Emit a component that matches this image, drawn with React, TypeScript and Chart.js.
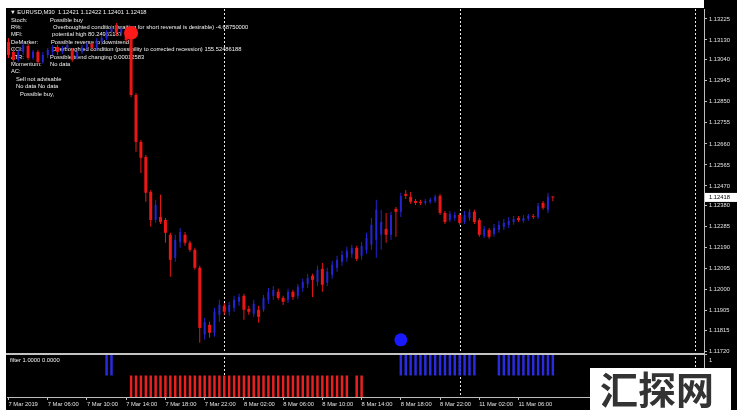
import React, { useEffect, useRef } from 'react';
import { Chart, registerables } from 'chart.js';
Chart.register(...registerables);

// ---------- data ----------
const FIRST_BAR = 4; // bar index of first visible M30 bar (7 Mar 02:00)

const opens = [
  1.13121, 1.13076, 1.13040, 1.13076, 1.13103, 1.13049, 1.13076, 1.13031, 1.13062, 1.13076,
  1.13098, 1.13076, 1.13094, 1.13085, 1.13049, 1.13076, 1.13094, 1.13112, 1.13094, 1.13121,
  1.13139, 1.13166, 1.13198, 1.13162, 1.13175, 1.13130, 1.12881, 1.12669, 1.12601, 1.12443,
  1.12316, 1.12330, 1.12316, 1.12249, 1.12145, 1.12217, 1.12249, 1.12213, 1.12181, 1.12100,
  1.11797, 1.11842, 1.11806, 1.11887, 1.11928, 1.11901, 1.11919, 1.11946, 1.11973, 1.11914,
  1.11892, 1.11910, 1.11910, 1.11955, 1.11973, 1.11991, 1.11964, 1.11955, 1.11991, 1.11973,
  1.12009, 1.12027, 1.12064, 1.12036, 1.12095, 1.12032, 1.12068, 1.12100, 1.12127, 1.12145,
  1.12163, 1.12190, 1.12154, 1.12181, 1.12204, 1.12226, 1.12249, 1.12276, 1.12249, 1.12366,
  1.12353, 1.12434, 1.12421, 1.12402, 1.12398, 1.12393, 1.12398, 1.12402, 1.12425, 1.12348,
  1.12316, 1.12325, 1.12339, 1.12307, 1.12325, 1.12353, 1.12316, 1.12244, 1.12271, 1.12253,
  1.12271, 1.12285, 1.12294, 1.12307, 1.12325, 1.12312, 1.12321, 1.12334, 1.12330, 1.12393,
  1.12362, 1.12421,
];
const highs = [
  1.13139, 1.13094, 1.13085, 1.13121, 1.13112, 1.13085, 1.13085, 1.13076, 1.13094, 1.13107,
  1.13107, 1.13103, 1.13116, 1.13094, 1.13085, 1.13107, 1.13121, 1.13121, 1.13139, 1.13153,
  1.13175, 1.13198, 1.13207, 1.13189, 1.13189, 1.13139, 1.12890, 1.12678, 1.12610, 1.12452,
  1.12407, 1.12430, 1.12325, 1.12258, 1.12249, 1.12280, 1.12262, 1.12222, 1.12190, 1.12109,
  1.11874, 1.11855, 1.11919, 1.11955, 1.11941, 1.11946, 1.11973, 1.11982, 1.11982, 1.11928,
  1.11955, 1.11928, 1.11977, 1.12009, 1.12018, 1.12005, 1.11973, 1.12005, 1.12000, 1.12027,
  1.12050, 1.12073, 1.12073, 1.12109, 1.12122, 1.12100, 1.12131, 1.12154, 1.12177, 1.12195,
  1.12204, 1.12199, 1.12217, 1.12258, 1.12325, 1.12407, 1.12362, 1.12348, 1.12353, 1.12375,
  1.12439, 1.12452, 1.12443, 1.12411, 1.12407, 1.12411, 1.12416, 1.12430, 1.12434, 1.12357,
  1.12357, 1.12353, 1.12348, 1.12357, 1.12366, 1.12362, 1.12325, 1.12289, 1.12280, 1.12298,
  1.12312, 1.12321, 1.12330, 1.12334, 1.12334, 1.12339, 1.12343, 1.12343, 1.12393, 1.12402,
  1.12439, 1.12422,
];
const lows = [
  1.13049, 1.13026, 1.13031, 1.13062, 1.13040, 1.13040, 1.13022, 1.13022, 1.13049, 1.13062,
  1.13062, 1.13067, 1.13080, 1.13031, 1.13040, 1.13067, 1.13085, 1.13085, 1.13085, 1.13107,
  1.13130, 1.13153, 1.13148, 1.13148, 1.13121, 1.12872, 1.12624, 1.12529, 1.12398, 1.12285,
  1.12303, 1.12298, 1.12213, 1.12059, 1.12127, 1.12190, 1.12199, 1.12172, 1.12091, 1.11761,
  1.11774, 1.11783, 1.11788, 1.11855, 1.11887, 1.11883, 1.11901, 1.11928, 1.11865, 1.11887,
  1.11878, 1.11851, 1.11901, 1.11937, 1.11955, 1.11955, 1.11932, 1.11941, 1.11955, 1.11959,
  1.11991, 1.12009, 1.11968, 1.12018, 1.11991, 1.12018, 1.12050, 1.12082, 1.12109, 1.12127,
  1.12145, 1.12131, 1.12136, 1.12163, 1.12181, 1.12145, 1.12181, 1.12213, 1.12226, 1.12240,
  1.12330, 1.12411, 1.12389, 1.12384, 1.12384, 1.12384, 1.12389, 1.12393, 1.12339, 1.12298,
  1.12307, 1.12312, 1.12294, 1.12298, 1.12312, 1.12298, 1.12240, 1.12235, 1.12231, 1.12240,
  1.12258, 1.12271, 1.12280, 1.12294, 1.12307, 1.12303, 1.12312, 1.12321, 1.12321, 1.12362,
  1.12348, 1.12401,
];
const closes = [
  1.13062, 1.13040, 1.13076, 1.13107, 1.13049, 1.13076, 1.13031, 1.13062, 1.13085, 1.13098,
  1.13076, 1.13094, 1.13107, 1.13040, 1.13076, 1.13094, 1.13112, 1.13094, 1.13121, 1.13139,
  1.13166, 1.13184, 1.13162, 1.13180, 1.13130, 1.12881, 1.12669, 1.12597, 1.12439, 1.12316,
  1.12384, 1.12307, 1.12258, 1.12136, 1.12226, 1.12262, 1.12213, 1.12181, 1.12100, 1.11828,
  1.11855, 1.11806, 1.11901, 1.11932, 1.11901, 1.11932, 1.11955, 1.11968, 1.11910, 1.11901,
  1.11937, 1.11878, 1.11964, 1.11991, 1.12000, 1.11964, 1.11946, 1.11991, 1.11968, 1.12014,
  1.12036, 1.12054, 1.12045, 1.12091, 1.12023, 1.12082, 1.12113, 1.12136, 1.12158, 1.12177,
  1.12190, 1.12140, 1.12199, 1.12235, 1.12294, 1.12362, 1.12307, 1.12249, 1.12339, 1.12353,
  1.12425, 1.12425, 1.12398, 1.12393, 1.12393, 1.12402, 1.12407, 1.12421, 1.12348, 1.12307,
  1.12343, 1.12339, 1.12303, 1.12339, 1.12353, 1.12307, 1.12249, 1.12276, 1.12240, 1.12280,
  1.12294, 1.12303, 1.12312, 1.12321, 1.12316, 1.12325, 1.12334, 1.12330, 1.12380, 1.12371,
  1.12421, 1.12418,
];

// "filter" indicator: 1 = up (blue), -1 = down (red), 0 = none
const filterSignal = [
  0, 0, 0, 0, 0, 0, 0, 0, 0, 0, 0, 0, 0, 0, 0, 0, 0, 0, 0, 0,
  1, 1,
  0, 0, 0,
  -1, -1, -1, -1, -1, -1, -1, -1, -1, -1, -1, -1, -1, -1, -1,
  -1, -1, -1, -1, -1, -1, -1, -1, -1, -1, -1, -1, -1, -1, -1,
  -1, -1, -1, -1, -1, -1, -1, -1, -1, -1, -1, -1, -1, -1, -1,
  0,
  -1, -1,
  0, 0, 0, 0, 0, 0, 0,
  1, 1, 1, 1, 1, 1, 1, 1, 1, 1, 1, 1, 1, 1, 1, 1,
  0, 0, 0, 0,
  1, 1, 1, 1, 1, 1, 1, 1, 1, 1, 1, 1,
];

const sellSignalBars = [29];
const sellSignalPrices = [1.13162];
const buySignalBars = [84];
const buySignalPrices = [1.11774];

const xTickBars = [4, 12, 20, 28, 36, 44, 52, 60, 68, 76, 84, 92, 100, 108];
const xTickLabels = [
  '7 Mar 2019', '7 Mar 06:00', '7 Mar 10:00', '7 Mar 14:00', '7 Mar 18:00', '7 Mar 22:00',
  '8 Mar 02:00', '8 Mar 06:00', '8 Mar 10:00', '8 Mar 14:00', '8 Mar 18:00', '8 Mar 22:00',
  '11 Mar 02:00', '11 Mar 06:00',
];
const priceTicks = [
  1.13225, 1.13130, 1.13040, 1.12945, 1.12850, 1.12755, 1.12660, 1.12565, 1.12470,
  1.12380, 1.12285, 1.12190, 1.12095, 1.12000, 1.11905, 1.11815, 1.11720,
];
const filterTicks = [1];
const daySeparators = [48, 96, 144];

const headerText = '\u25BC EURUSD,M30  1.12421 1.12422 1.12401 1.12418';
const indicatorNames = ['Stoch:', 'R%:', 'MFI:', 'DeMarker:', 'CCI:', 'ATR:', 'Momentum:', 'AC:'];
const indicatorTexts = [
  'Possible buy',
  'Overboughted condition (waiting for short reversal is desirable) -4.68750000',
  'potential high 80.24963187',
  'Possible reverse to downtrend',
  'Overboughted condition (possibility to corrected recession) 155.52486188',
  'Possible trend changing 0.00012583',
  'No data',
  '',
];
const summaryLines = ['Sell not advisable', 'No data No data', 'Possible buy,'];
const filterLabel = 'filter 1.0000 0.0000';
const watermarkText = '汇探网';

// ---------- styling ----------
const FONT = '"Liberation Sans", Arial, sans-serif';
const BULL = '#2424d2';
const BEAR = '#ec1616';
const AXIS_LINE = '#bdbdbd';
const AXIS_TEXT = '#e2e2e2';
const TEXT = '#f2f2f2';

const barIdx = opens.map((_, i) => FIRST_BAR + i);
const bear = opens.map((o, i) => closes[i] < o);

const decor = {
  id: 'mt4decor',
  beforeDraw(chart: any) {
    const ctx = chart.ctx;
    ctx.save();
    ctx.fillStyle = '#ffffff';
    ctx.fillRect(0, 0, chart.width, chart.height);
    ctx.fillStyle = '#000000';
    ctx.fillRect(6, 8, chart.width - 6, 402);
    ctx.fillRect(704, 0, chart.width - 704, 8);
    ctx.restore();
  },
  beforeDatasetsDraw(chart: any) {
    const { ctx, chartArea, scales } = chart;
    const x = scales.x;
    ctx.save();
    ctx.strokeStyle = '#e8e8e8';
    ctx.lineWidth = 1;
    ctx.setLineDash([2, 2]);
    daySeparators.forEach((b) => {
      const px = Math.round(x.getPixelForValue(b)) + 0.5;
      ctx.beginPath();
      ctx.moveTo(px, chartArea.top);
      ctx.lineTo(px, chartArea.bottom);
      ctx.stroke();
    });
    ctx.setLineDash([]);

    ctx.font = `5.8px ${FONT}`;
    ctx.fillStyle = TEXT;
    ctx.textBaseline = 'middle';
    ctx.textAlign = 'left';
    ctx.fillText(headerText, 10, 12.7);
    const valueX = [50, 53, 52, 51, 52, 50, 50, 50];
    indicatorNames.forEach((n, k) => {
      const yy = 20 + k * 7.4;
      ctx.fillText(n, 11, yy);
      if (indicatorTexts[k]) ctx.fillText(indicatorTexts[k], valueX[k], yy);
    });
    const sx = [16, 16, 20];
    summaryLines.forEach((s, k) => {
      ctx.fillText(s, sx[k], 20 + (8 + k) * 7.4);
    });
    ctx.fillText(filterLabel, 10, 360);
    ctx.restore();
  },
  afterDraw(chart: any) {
    const { ctx, scales } = chart;
    const y = scales.y;
    ctx.save();
    // pane separator
    ctx.strokeStyle = '#c4c4c4';
    ctx.lineWidth = 2;
    ctx.beginPath();
    ctx.moveTo(6, y.bottom);
    ctx.lineTo(704, y.bottom);
    ctx.stroke();
    // current price label
    const last = closes[closes.length - 1];
    const py = y.getPixelForValue(last);
    ctx.fillStyle = '#ffffff';
    ctx.fillRect(705, py - 4.5, 32, 9);
    ctx.fillStyle = '#000000';
    ctx.font = `5.8px ${FONT}`;
    ctx.textBaseline = 'middle';
    ctx.textAlign = 'left';
    ctx.fillText(last.toFixed(5), 709, py);
    // watermark
    ctx.fillStyle = '#ffffff';
    ctx.fillRect(590, 368, 141, 46);
    ctx.font = `bold 38px "Noto Sans CJK SC"`;
    ctx.fillStyle = '#333333';
    ctx.fillText(watermarkText, 600, 390);
    ctx.restore();
  },
};

export default function App() {
  const ref = useRef<HTMLCanvasElement>(null);
  useEffect(() => {
    Chart.defaults.font.family = FONT;
    const tickFont = { size: 5.8, family: FONT };
    const chart = new Chart(ref.current as HTMLCanvasElement, {
      type: 'bar',
      data: {
        datasets: [
          {
            type: 'scatter',
            data: sellSignalBars.map((b, i) => ({ x: b, y: sellSignalPrices[i] })),
            pointRadius: 7,
            pointBackgroundColor: '#ff1a1a',
            pointBorderWidth: 0,
            yAxisID: 'y',
            order: 0,
          } as any,
          {
            type: 'scatter',
            data: buySignalBars.map((b, i) => ({ x: b, y: buySignalPrices[i] })),
            pointRadius: 6.5,
            pointBackgroundColor: '#1a1aff',
            pointBorderWidth: 0,
            yAxisID: 'y',
            order: 0,
          } as any,
          {
            type: 'bar',
            data: barIdx.filter((_, i) => bear[i]).map((b) => {
              const i = b - FIRST_BAR;
              return { x: b, y: [opens[i], closes[i]] };
            }),
            backgroundColor: BEAR,
            maxBarThickness: 3,
            minBarLength: 1,
            grouped: false,
            yAxisID: 'y',
            order: 1,
          } as any,
          {
            type: 'bar',
            data: barIdx.filter((_, i) => !bear[i]).map((b) => {
              const i = b - FIRST_BAR;
              return { x: b, y: [opens[i], closes[i]] };
            }),
            backgroundColor: BULL,
            maxBarThickness: 2,
            minBarLength: 1,
            grouped: false,
            yAxisID: 'y',
            order: 1,
          } as any,
          {
            type: 'bar',
            data: barIdx.map((b, i) => ({ x: b, y: [lows[i], highs[i]] })),
            backgroundColor: bear.map((r) => (r ? BEAR : BULL)),
            maxBarThickness: 1,
            grouped: false,
            yAxisID: 'y',
            order: 2,
          } as any,
          {
            type: 'bar',
            data: barIdx.filter((_, i) => filterSignal[i] === 1).map((b) => ({ x: b, y: [0, 1] })),
            backgroundColor: '#2a2ae0',
            maxBarThickness: 2.5,
            grouped: false,
            yAxisID: 'y2',
            order: 3,
          } as any,
          {
            type: 'bar',
            data: barIdx.filter((_, i) => filterSignal[i] === -1).map((b) => ({ x: b, y: [-1, 0] })),
            backgroundColor: '#ea2020',
            maxBarThickness: 2.5,
            grouped: false,
            yAxisID: 'y2',
            order: 3,
          } as any,
        ],
      },
      options: {
        responsive: false,
        animation: false,
        devicePixelRatio: 1,
        events: [],
        layout: { padding: { left: 7, top: 9, right: 0, bottom: 4 } },
        plugins: { legend: { display: false }, tooltip: { enabled: false } },
        scales: {
          x: {
            type: 'linear',
            position: 'bottom',
            min: 3.694,
            max: 145.82,
            offset: false,
            afterFit: (s: any) => { s.height = 13; },
            afterBuildTicks: (s: any) => { s.ticks = xTickBars.map((v) => ({ value: v })); },
            ticks: {
              autoSkip: false,
              maxRotation: 0,
              minRotation: 0,
              align: 'start',
              padding: 1,
              color: AXIS_TEXT,
              font: tickFont,
              callback: (_v: any, i: number) => xTickLabels[i],
            },
            grid: { offset: false, drawOnChartArea: false, drawTicks: true, tickLength: 3, color: AXIS_LINE },
            border: { display: true, color: AXIS_LINE },
          },
          y: {
            type: 'linear',
            position: 'right',
            stack: 'panes',
            stackWeight: 345,
            min: 1.1171,
            max: 1.1327,
            afterFit: (s: any) => { s.width = 33; },
            afterBuildTicks: (s: any) => { s.ticks = priceTicks.map((v) => ({ value: v })); },
            ticks: {
              autoSkip: false,
              padding: 2,
              color: AXIS_TEXT,
              font: tickFont,
              callback: (v: any) => Number(v).toFixed(5),
            },
            grid: { drawOnChartArea: false, drawTicks: true, tickLength: 3, color: AXIS_LINE },
            border: { display: true, color: AXIS_LINE },
          },
          y2: {
            type: 'linear',
            position: 'right',
            stack: 'panes',
            stackWeight: 43,
            min: -1,
            max: 1,
            afterFit: (s: any) => { s.width = 33; },
            afterBuildTicks: (s: any) => { s.ticks = filterTicks.map((v) => ({ value: v })); },
            ticks: {
              autoSkip: false,
              padding: 2,
              labelOffset: 6,
              color: AXIS_TEXT,
              font: tickFont,
              callback: (v: any) => String(v),
            },
            grid: { drawOnChartArea: false, drawTicks: true, tickLength: 3, color: AXIS_LINE },
            border: { display: true, color: AXIS_LINE },
          },
        },
      } as any,
      plugins: [decor],
    });
    return () => chart.destroy();
  }, []);

  return (
    <div style={{ position: 'fixed', left: 0, top: 0, width: 737, height: 414, background: '#fff' }}>
      <canvas ref={ref} width={737} height={414} style={{ display: 'block', width: 737, height: 414 }} />
    </div>
  );
}
